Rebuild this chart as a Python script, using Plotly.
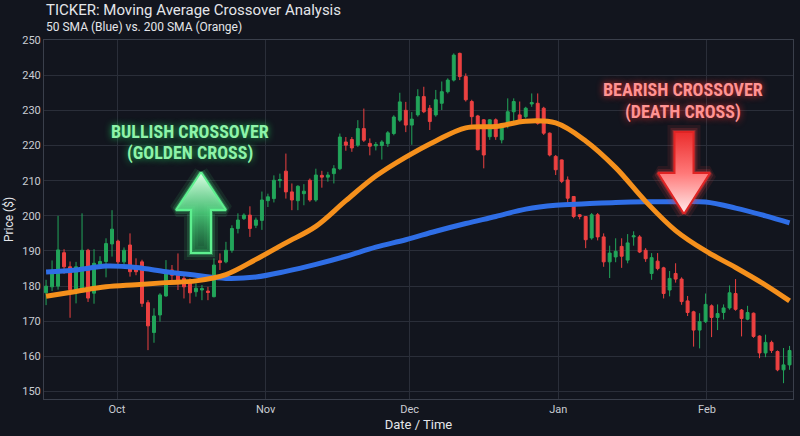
import plotly.graph_objects as go
import pandas as pd

# ---------------- data ----------------
opens = [178.1, 179.8, 180.0, 189.5, 185.5, 179.0, 179.0, 190.2, 178.0, 186.2,
         187.0, 192.0, 192.8, 186.9, 191.7, 185.0, 186.9, 175.3, 166.8, 171.8,
         177.2, 184.6, 183.1, 182.2, 181.0, 178.4, 178.9, 178.6, 177.0, 187.2,
         186.9, 190.2, 196.4, 199.2, 200.2, 197.3, 198.7, 204.3, 204.9, 210.0,
         212.7, 206.8, 204.3, 206.3, 210.1, 204.5, 211.5, 211.0, 212.0, 213.4,
         221.0, 221.7, 220.1, 224.8, 220.6, 219.9, 220.0, 220.5, 223.4, 227.2,
         230.0, 225.8, 228.7, 233.9, 230.6, 228.7, 232.0, 235.3, 238.6, 246.2,
         239.6, 232.5, 228.4, 227.3, 222.5, 227.3, 221.6, 226.3, 229.6, 228.7,
         228.2, 231.8, 232.0, 230.6, 223.5, 216.9, 215.9, 210.2, 205.5, 200.3,
         199.8, 193.7, 200.3, 194.0, 186.9, 188.3, 191.3, 187.4, 194.0, 194.0,
         190.2, 183.6, 187.1, 185.2, 178.9, 183.6, 182.0, 175.8, 172.7, 167.5,
         169.9, 174.4, 171.1, 172.5, 173.8, 177.9, 173.2, 170.6, 172.3, 165.8,
         161.0, 164.0, 161.4, 156.2, 157.6]
highs = [181.8, 187.3, 200.0, 190.5, 187.0, 186.9, 200.7, 190.6, 190.5, 188.5,
         193.6, 201.6, 193.2, 191.0, 195.0, 187.9, 187.5, 176.0, 173.7, 178.0,
         187.4, 186.0, 189.3, 183.1, 182.2, 180.8, 180.3, 179.8, 187.9, 189.3,
         192.6, 197.3, 200.7, 200.7, 202.7, 199.5, 206.9, 206.3, 211.5, 212.0,
         217.7, 209.2, 208.7, 209.0, 210.6, 213.4, 212.8, 212.5, 214.4, 223.4,
         222.4, 222.4, 227.2, 230.5, 222.0, 221.0, 221.5, 224.1, 228.6, 235.0,
         232.4, 229.5, 236.0, 236.7, 231.5, 235.8, 238.2, 239.1, 246.2, 246.4,
         240.5, 233.0, 228.7, 227.5, 227.5, 227.7, 225.9, 233.4, 233.4, 232.5,
         231.0, 234.8, 234.8, 231.0, 223.7, 217.3, 216.0, 211.2, 205.6, 200.5,
         199.9, 200.8, 200.8, 195.0, 191.5, 193.6, 193.6, 194.8, 195.6, 194.5,
         190.8, 189.4, 189.4, 185.5, 184.3, 186.5, 182.5, 177.2, 173.0, 172.3,
         177.9, 174.8, 174.8, 174.8, 180.2, 182.0, 173.5, 174.4, 172.5, 166.0,
         166.2, 164.5, 161.7, 162.4, 163.0]
lows = [174.6, 178.6, 179.0, 183.5, 171.0, 175.1, 178.5, 175.5, 175.0, 185.3,
        182.5, 188.4, 186.0, 186.0, 182.7, 183.1, 174.1, 161.8, 163.9, 169.9,
        177.0, 181.7, 178.9, 176.5, 175.1, 177.0, 176.0, 176.0, 176.8, 184.6,
        186.5, 189.5, 195.0, 198.8, 194.0, 196.5, 196.0, 202.5, 203.8, 208.0,
        204.9, 201.6, 201.6, 203.0, 204.0, 204.0, 208.0, 209.7, 209.2, 213.0,
        218.5, 218.2, 219.6, 221.0, 217.2, 218.6, 216.0, 219.6, 222.9, 226.7,
        223.8, 220.2, 228.2, 229.2, 224.4, 228.2, 230.1, 234.8, 238.2, 238.6,
        232.5, 225.9, 218.6, 213.5, 221.6, 221.6, 220.6, 224.9, 226.8, 226.3,
        227.7, 231.0, 225.9, 223.0, 216.9, 211.6, 209.3, 202.7, 199.3, 199.0,
        190.8, 193.2, 193.0, 185.5, 182.3, 186.8, 185.2, 186.5, 191.5, 189.4,
        186.9, 181.8, 184.5, 176.5, 177.1, 181.0, 174.7, 171.5, 162.8, 162.3,
        169.5, 165.5, 167.5, 170.5, 173.3, 173.0, 165.7, 170.3, 165.3, 159.5,
        159.8, 161.0, 155.8, 152.4, 156.2]
closes = [180.0, 184.2, 190.3, 185.5, 179.0, 185.5, 190.2, 176.6, 186.5, 187.0,
          192.1, 196.2, 186.9, 190.2, 184.1, 184.1, 175.1, 168.7, 171.5, 177.5,
          183.6, 183.1, 181.7, 179.8, 178.1, 179.4, 179.3, 178.2, 186.0, 186.7,
          190.2, 196.4, 198.8, 200.2, 196.4, 198.8, 204.5, 205.4, 210.1, 210.3,
          206.8, 204.5, 208.4, 207.0, 204.5, 211.6, 211.0, 211.6, 213.4, 222.4,
          220.1, 219.3, 224.8, 221.5, 219.8, 220.3, 221.0, 223.6, 228.1, 232.4,
          225.8, 227.5, 233.9, 229.6, 226.8, 233.0, 235.3, 238.6, 245.7, 239.6,
          233.0, 228.2, 218.8, 217.3, 227.3, 222.5, 225.4, 229.6, 232.5, 226.8,
          230.6, 232.2, 226.3, 223.5, 217.3, 213.1, 209.8, 205.0, 199.8, 199.8,
          193.2, 200.3, 194.0, 186.9, 189.4, 189.9, 188.5, 192.3, 194.3, 189.7,
          187.8, 188.1, 185.0, 177.9, 182.2, 182.0, 175.6, 172.5, 167.5, 169.9,
          174.8, 171.1, 172.2, 173.8, 178.1, 173.4, 170.8, 172.5, 165.7, 161.0,
          164.0, 161.7, 156.2, 157.6, 161.7]

dates = pd.date_range("2023-09-16 05:00", periods=len(opens), freq="30h")

# moving averages sampled at these candle indices
sma_index = [0, 5, 10, 15, 20, 25, 30, 35, 40, 45, 50, 55, 60, 65, 70, 75,
             80, 85, 90, 95, 100, 105, 110, 115, 120, 124]
sma50 = [184.0, 184.6, 185.7, 185.3, 184.1, 183.1, 182.2, 182.6, 184.2, 186.2,
         188.5, 191.1, 193.2, 195.6, 197.8, 199.8, 201.9, 203.0, 203.4, 203.8,
         204.0, 204.0, 203.9, 202.2, 200.0, 198.0]
sma200 = [177.1, 178.5, 179.8, 180.4, 181.0, 181.5, 183.3, 187.6, 192.3, 197.0,
          204.3, 211.3, 216.7, 221.3, 225.0, 225.4, 226.9, 226.4, 221.3, 213.7,
          204.1, 195.8, 190.0, 185.3, 180.3, 175.8]
sma_dates = dates[sma_index]

tick_months = "M1"

# ---------------- style ----------------
BG = "#12151e"
GRID = "#2a2e39"
GREEN = "#22a55a"
RED = "#ec4141"
BLUE = "#2f6ee6"
ORANGE = "#f5901c"
TXT = "#e4e6ea"
TICK = "#c9ccd3"

L, R, T, B = 44, 7, 40, 37
W, H = 800, 436
PW, PH = W - L - R, H - T - B


def px(x):
    return (x - L) / PW


def py(y):
    return (H - B - y) / PH


fig = go.Figure()

fig.add_trace(go.Candlestick(
    x=dates, open=opens, high=highs, low=lows, close=closes,
    increasing=dict(line=dict(color=GREEN, width=1), fillcolor=GREEN),
    decreasing=dict(line=dict(color=RED, width=1), fillcolor=RED),
    whiskerwidth=0, showlegend=False, hoverinfo="skip"))

fig.add_trace(go.Scatter(x=sma_dates, y=sma50, mode="lines", showlegend=False,
                         line=dict(color=BLUE, width=5, shape="spline"), hoverinfo="skip"))
fig.add_trace(go.Scatter(x=sma_dates, y=sma200, mode="lines", showlegend=False,
                         line=dict(color=ORANGE, width=5, shape="spline"), hoverinfo="skip"))


def arrow(cx, tip, base, end, head_hw, shaft_hw):
    xs = [cx, cx + head_hw, cx + shaft_hw, cx + shaft_hw, cx - shaft_hw, cx - shaft_hw, cx - head_hw, cx]
    ys = [tip, base, base, end, end, base, base, tip]
    return [px(v) for v in xs], [py(v) for v in ys]


def draw_arrow(xs, ys, glow, outline, scale):
    for w, a in [(14, 0.10), (8, 0.18), (4, 0.35)]:
        fig.add_trace(go.Scatter(x=xs, y=ys, xaxis="x2", yaxis="y2", mode="lines",
                                 line=dict(color=f"rgba({glow},{a})", width=w),
                                 showlegend=False, hoverinfo="skip"))
    fig.add_trace(go.Scatter(x=xs, y=ys, xaxis="x2", yaxis="y2", mode="lines",
                             fill="toself", fillgradient=dict(type="vertical", colorscale=scale),
                             line=dict(color=outline, width=2),
                             showlegend=False, hoverinfo="skip"))


gx, gy = arrow(201, 172, 210, 253, 25, 10)
draw_arrow(gx, gy, "74,222,128", "#5ef08f",
           [[0, "rgba(34,160,80,0.45)"], [0.5, "rgba(80,220,130,0.85)"], [1, "rgba(225,255,232,1)"]])
rx, ry = arrow(684, 214, 173, 132, 26, 9.5)
draw_arrow(rx, ry, "239,68,68", "#e02424",
           [[0, "rgba(255,238,238,1)"], [0.5, "rgba(255,120,120,1)"], [1, "rgba(235,45,45,1)"]])

annotations = [
    dict(text="TICKER: Moving Average Crossover Analysis", x=0, y=py(10.5), xref="paper", yref="paper",
         xanchor="left", yanchor="middle", showarrow=False,
         font=dict(family="Roboto", size=15, color=TXT)),
    dict(text="50 SMA (Blue) vs. 200 SMA (Orange)", x=0, y=py(27), xref="paper", yref="paper",
         xanchor="left", yanchor="middle", showarrow=False,
         font=dict(family="Roboto", size=12, color=TXT)),
]
label_font = "Liberation Sans Narrow, Roboto Condensed, Roboto"
for text, cx, cy, col, sh in [
    ("BULLISH CROSSOVER", 190, 131, "#8ef3a9", "0px 0px 7px rgba(34,197,94,0.95)"),
    ("(GOLDEN CROSS)", 190, 153, "#8ef3a9", "0px 0px 7px rgba(34,197,94,0.95)"),
    ("BEARISH CROSSOVER", 683, 89, "#ff9393", "0px 0px 7px rgba(239,50,50,0.95)"),
    ("(DEATH CROSS)", 683, 112, "#ff9393", "0px 0px 7px rgba(239,50,50,0.95)"),
]:
    annotations.append(dict(text=text, x=px(cx), y=py(cy), xref="paper", yref="paper",
                            xanchor="center", yanchor="middle", showarrow=False,
                            font=dict(family=label_font, size=18, color=col, weight="bold", shadow=sh)))

fig.update_layout(
    width=W, height=H,
    margin=dict(l=L, r=R, t=T, b=B, autoexpand=False),
    paper_bgcolor=BG, plot_bgcolor=BG,
    showlegend=False,
    font=dict(family="Roboto", color=TICK, size=11),
    annotations=annotations,
    xaxis=dict(type="date", range=["2023-09-15 18:40", "2024-02-18 22:20"],
               dtick=tick_months, tick0="2023-10-01", tickformat="%b",
               rangeslider=dict(visible=False), showgrid=True, gridcolor=GRID, gridwidth=1,
               showline=True, linecolor="#3a3f4b", mirror=True, ticks="", ticklen=0,
               tickfont=dict(size=11, color=TICK),
               title=dict(text="Date / Time", font=dict(size=13, color=TXT), standoff=4)),
    yaxis=dict(range=[147.9, 250], dtick=10, tick0=150, showgrid=True, gridcolor=GRID, gridwidth=1,
               showline=True, linecolor="#3a3f4b", mirror=True, zeroline=False, ticks="",
               tickfont=dict(size=11, color=TICK),
               title=dict(text="Price ($)", font=dict(size=12, color=TXT), standoff=6)),
    xaxis2=dict(overlaying="x", range=[0, 1], visible=False, fixedrange=True),
    yaxis2=dict(overlaying="y", range=[0, 1], visible=False, fixedrange=True),
)

fig.write_html("out.html", config={"displayModeBar": False},
               post_script="document.body.style.margin='0';document.body.style.overflow='hidden';")
